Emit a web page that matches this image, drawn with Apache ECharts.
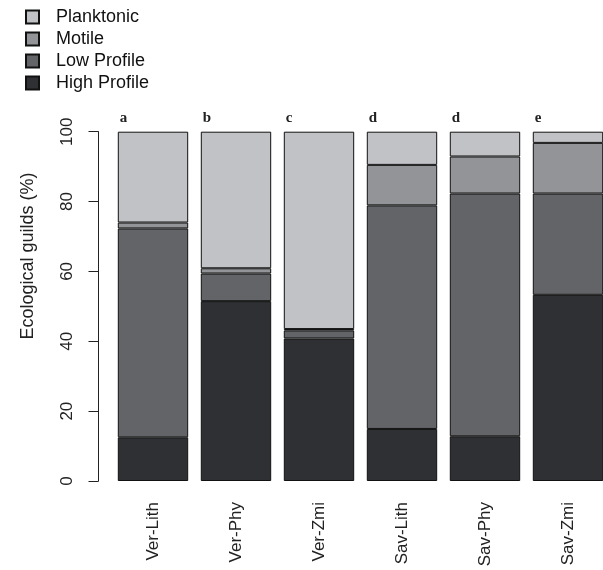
<!DOCTYPE html>
<html>
<head>
<meta charset="utf-8">
<script src="https://cdn.jsdelivr.net/npm/echarts@6/dist/echarts.min.js"></script>
<style>html,body{margin:0;padding:0;background:#fff;overflow:hidden;}#c{width:620px;height:570px;}</style>
</head>
<body>
<div id="c"></div>
<script>
const categories = ['Ver-Lith', 'Ver-Phy', 'Ver-Zmi', 'Sav-Lith', 'Sav-Phy', 'Sav-Zmi'];
const highProfile = [12.5, 51.5, 40.8, 14.9, 12.8, 53.3];
const lowProfile = [59.8, 7.9, 2.3, 64.0, 69.5, 29.0];
const motile = [1.7, 1.5, 0.4, 11.6, 10.6, 14.5];
const planktonic = [26.0, 39.1, 56.5, 9.5, 7.1, 3.2];
const letters = ['a', 'b', 'c', 'd', 'd', 'e'];
const yTicks = [0, 20, 40, 60, 80, 100];

const colors = {
  'High Profile': '#2f3033',
  'Low Profile': '#626467',
  'Motile': '#939498',
  'Planktonic': '#c0c2c5'
};

function mk(name, data, withLetters) {
  const s = {
    name: name,
    type: 'bar',
    stack: 'g',
    data: data,
    barCategoryGap: '15.2%',
    itemStyle: { color: colors[name], borderColor: '#111', borderWidth: 1 },
    emphasis: { disabled: true },
    animation: false
  };
  if (withLetters) {
    s.label = {
      show: true,
      position: [2, -6],
      align: 'left',
      verticalAlign: 'bottom',
      formatter: p => letters[p.dataIndex],
      fontFamily: 'Liberation Serif',
      fontWeight: 'bold',
      fontSize: 15,
      color: '#222'
    };
  }
  return s;
}

const chart = echarts.init(document.getElementById('c'), null, { renderer: 'canvas' });
chart.setOption({
  animation: false,
  backgroundColor: '#fff',
  textStyle: { fontFamily: 'Liberation Sans' },
  legend: {
    orient: 'vertical',
    left: 20,
    top: 3,
    itemWidth: 13,
    itemHeight: 13,
    itemGap: 4,
    icon: 'rect',
    data: ['Planktonic', 'Motile', 'Low Profile', 'High Profile'],
    textStyle: { fontFamily: 'Liberation Sans', fontSize: 18, color: '#111', padding: [0, 0, 0, 12] },
    selectedMode: false
  },
  grid: { left: 111.5, top: 131.7, width: 498, height: 349.3 },
  xAxis: {
    type: 'category',
    data: categories,
    axisLine: { show: false },
    axisTick: { show: false },
    axisLabel: { rotate: 90, margin: 21, fontSize: 17, color: '#222', fontFamily: 'Liberation Sans' }
  },
  yAxis: {
    type: 'value',
    min: yTicks[0],
    max: yTicks[yTicks.length - 1],
    interval: 20,
    offset: 13,
    splitLine: { show: false },
    axisLine: { show: true, lineStyle: { color: '#222', width: 1 } },
    axisTick: { show: true, length: 10, lineStyle: { color: '#222' } },
    axisLabel: { rotate: 90, margin: 23, fontSize: 17, color: '#222', fontFamily: 'Liberation Sans' }
  },
  graphic: [{
    type: 'text',
    x: 28,
    y: 256,
    rotation: Math.PI / 2,
    style: {
      text: 'Ecological guilds (%)',
      fontFamily: 'Liberation Sans',
      fontSize: 18,
      fill: '#222',
      align: 'center',
      verticalAlign: 'middle'
    }
  }],
  series: [
    mk('High Profile', highProfile, false),
    mk('Low Profile', lowProfile, false),
    mk('Motile', motile, false),
    mk('Planktonic', planktonic, true)
  ]
});
</script>
</body>
</html>
